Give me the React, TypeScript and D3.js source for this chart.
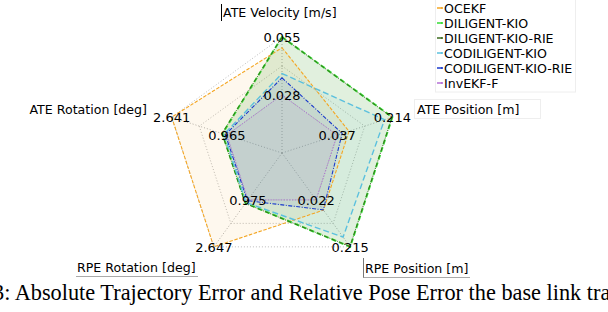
import React from "react";
import * as d3 from "d3";

const axesNames = ["ATE Velocity [m/s]", "ATE Position [m]", "RPE Position [m]", "RPE Rotation [deg]", "ATE Rotation [deg]"];
const axisMin = [0.028, 0.037, 0.022, 0.975, 0.965];
const axisMax = [0.055, 0.214, 0.215, 2.647, 2.641];
const minLabels = ["0.028", "0.037", "0.022", "0.975", "0.965"];
const maxLabels = ["0.055", "0.214", "0.215", "2.647", "2.641"];

const seriesNames = ["OCEKF", "DILIGENT-KIO", "DILIGENT-KIO-RIE", "CODILIGENT-KIO", "CODILIGENT-KIO-RIE", "InvEKF-F"];
const ocekf = [0.05, 0.075, 0.064, 2.647, 2.641];
const diligentKio = [0.055, 0.214, 0.215, 1.09, 1.1];
const diligentKioRie = [0.055, 0.213, 0.214, 1.1, 1.11];
const codiligentKio = [0.038, 0.189, 0.175, 1.07, 1.05];
const codiligentKioRie = [0.036, 0.053, 0.063, 1.0, 1.01];
const invekf = [0.028, 0.037, 0.022, 0.975, 0.965];
const seriesValues = [ocekf, diligentKio, diligentKioRie, codiligentKio, codiligentKioRie, invekf];

const colors = ["#f4a623", "#33dd33", "#3d6b1e", "#5bc0de", "#1a3acc", "#b56fd6"];
const dashes = ["3.5,1.6", "5,3", "4,1.5,1,1.5", "6,3", "4,1.5,1,1.5", "1.2,1.5"];
const widths = [1.1, 2, 1, 1.4, 1.1, 1];

const captionText = "3: Absolute Trajectory Error and Relative Pose Error the base link tra";

const W = 608, H = 312;
const cx = 282, cy = 153, R = 116;
const font = "DejaVu Sans";

export default function App() {
  const scales = axisMin.map((mn, i) => d3.scaleLinear().domain([mn, axisMax[i]]).range([R * 0.5, R]));
  const ang = (i: number) => ((-90 + i * 72) * Math.PI) / 180;
  const pt = (i: number, r: number): [number, number] => [cx + r * Math.cos(ang(i)), cy + r * Math.sin(ang(i))];
  const line = d3.line().curve(d3.curveLinearClosed);
  const idx = d3.range(axesNames.length);
  const rings = [0.5, 0.75, 1.0];

  return (
    <svg width={W} height={H} style={{ position: "absolute", left: 0, top: 0, background: "#fff" }} fontFamily={font}>
      {/* grid */}
      {rings.map((f) => (
        <path key={"ring" + f} d={line(idx.map((i) => pt(i, R * f))) || ""} fill="none" stroke="#aaa" strokeWidth={0.8} strokeDasharray="1,2" />
      ))}
      {idx.map((i) => {
        const [x, y] = pt(i, R);
        return <line key={"sp" + i} x1={cx} y1={cy} x2={x} y2={y} stroke="#999" strokeWidth={0.8} strokeDasharray="1,2" />;
      })}
      {/* fills */}
      {seriesValues.map((vals, s) => (
        <path key={"f" + s} d={line(vals.map((v, i) => pt(i, scales[i](v)))) || ""} fill={colors[s]} fillOpacity={0.08} stroke="none" />
      ))}
      {/* lines */}
      {seriesValues.map((vals, s) => (
        <path key={"l" + s} d={line(vals.map((v, i) => pt(i, scales[i](v)))) || ""} fill="none" stroke={colors[s]} strokeWidth={widths[s]} strokeDasharray={dashes[s]} />
      ))}
      {/* value labels */}
      {idx.map((i) => {
        const [x1, y1] = pt(i, R * 0.5);
        const [x2, y2] = pt(i, R);
        return (
          <g key={"vl" + i} fontSize={13} textAnchor="middle" fill="#000">
            <text x={x1} y={y1} dy="0.36em">{minLabels[i]}</text>
            <text x={x2} y={y2} dy="0.36em">{maxLabels[i]}</text>
          </g>
        );
      })}
      {/* axis titles */}
      <g fontSize={12.6} fill="#000">
        <line x1={221.5} y1={4} x2={221.5} y2={21} stroke="#000" strokeWidth={1} />
        <text x={223} y={17}>{axesNames[0]}</text>
        <rect x={414.5} y={99.5} width={126} height={19} fill="#fff" stroke="#eee" />
        <text x={417} y={114}>{axesNames[1]}</text>
        <rect x={363.5} y={258.5} width={106} height={19} fill="#fff" stroke="none" />
        <line x1={363.5} y1={258} x2={363.5} y2={278} stroke="#777" />
        <line x1={363.5} y1={277.5} x2={470} y2={277.5} stroke="#aaa" />
        <text x={365} y={273}>{axesNames[2]}</text>
        <line x1={76} y1={276.5} x2={198} y2={276.5} stroke="#aaa" />
        <text x={77} y={272}>{axesNames[3]}</text>
        <text x={147} y={114} textAnchor="end">{axesNames[4]}</text>
      </g>
      {/* legend */}
      <rect x={435.5} y={-1} width={140} height={93} fill="#fff" stroke="#eee" />
      {seriesNames.map((n, s) => {
        const y = 8 + s * 15;
        return (
          <g key={"lg" + s}>
            <line x1={437} y1={y} x2={442} y2={y} stroke={colors[s]} strokeWidth={1.5} />
            <circle cx={442} cy={y} r={1.1} fill={colors[s]} />
            <text x={444} y={y} dy="0.36em" fontSize={12.6} fill="#000">{n}</text>
          </g>
        );
      })}
      {/* caption */}
      <text x={-7} y={300} fontFamily="Liberation Serif" fontSize={22.3} fill="#000">{captionText}</text>
    </svg>
  );
}
